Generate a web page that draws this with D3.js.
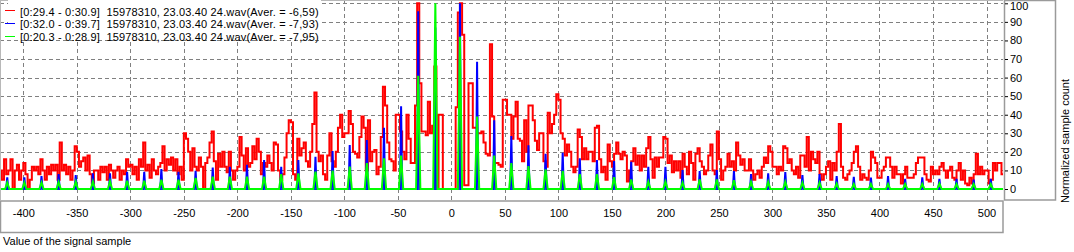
<!DOCTYPE html>
<html><head><meta charset="utf-8">
<script src="https://cdn.jsdelivr.net/npm/d3@7"></script>
<style>
html,body{margin:0;padding:0;background:#fff;}
svg{display:block;font-family:"Liberation Sans",Arial,sans-serif;font-size:11px;}
</style></head><body>
<svg id="chart" width="1074" height="252"></svg>
<script>
// ---------------- DATA ----------------
// Red histogram: bins of 2 sample units starting at -422
const redBinStart = -422;
const redBinWidth = 2;
const redCounts = [
  10, 5, 16, 8, 10, 16, 0, 10, 13, 5, 10,
  14, 8, 0, 5, 12, 10, 12, 8, 16, 10, 5, 12, 8, 13, 10, 13, 5, 25, 10, 13, 8, 12, 5, 10, 23,
  20, 12, 15, 17, 10, 18, 8, 3, 10, 10, 5, 12, 9, 12, 5, 13, 10, 6, 10, 12, 5, 10, 8, 16, 12,
  13, 8, 12, 5, 16, 12, 25, 10, 13, 6, 16, 10, 8, 12, 14, 23, 10, 16, 13, 17, 10, 16, 8, 12, 5,
  30, 27, 20, 10, 22, 12, 10, 17, 12, 0, 14, 17, 25, 31, 15, 5, 19, 12, 20, 12, 9, 20, 10, 5, 10,
  12, 28, 18, 10, 22, 12, 14, 23, 16, 27, 20, 8, 14, 12, 18, 14, 10, 25, 24, 10, 5, 8, 17, 30, 37,
  36, 8, 5, 27, 18, 22, 25, 15, 12, 20, 35, 52, 20, 15, 18, 8, 5, 18, 30, 15, 12, 20, 33, 40, 28,
  30, 30, 42, 35, 20, 19, 17, 28, 39, 33, 10, 37, 15, 20, 21, 8, 12, 28, 55, 45, 25, 16, 15, 10, 40,
  40, 31, 20, 16, 40, 27, 14, 14, 45, 100, 57, 31, 31, 29, 47, 30, 34, 66, 0, 40, 40, 0, 0, 0, 0,
  0, 0, 44, 95, 100, 83, 2, 2, 57, 57, 33, 33, 30, 30, 31, 25, 19, 18, 78, 39, 14, 14, 13, 12, 48,
  48, 40, 40, 27, 39, 47, 27, 26, 15, 37, 20, 45, 45, 37, 26, 21, 30, 30, 15, 12, 41, 30, 35, 40, 51,
  48, 30, 27, 18, 24, 20, 12, 9, 12, 32, 28, 16, 22, 16, 20, 20, 15, 33, 34, 16, 9, 12, 5, 24, 15,
  12, 19, 25, 19, 16, 20, 18, 4, 10, 15, 22, 13, 18, 10, 18, 12, 22, 28, 16, 6, 17, 12, 17, 17, 28,
  27, 14, 18, 9, 15, 10, 15, 6, 19, 12, 8, 20, 14, 5, 19, 22, 15, 12, 8, 10, 18, 24, 10, 8, 31,
  16, 5, 10, 12, 19, 12, 15, 10, 25, 18, 13, 16, 10, 10, 16, 10, 5, 8, 10, 6, 12, 17, 14, 23, 20,
  12, 12, 8, 12, 10, 23, 22, 14, 16, 10, 8, 12, 6, 18, 18, 12, 28, 10, 20, 16, 14, 20, 8, 5, 8,
  12, 15, 5, 14, 10, 20, 35, 12, 6, 5, 8, 10, 14, 20, 23, 12, 5, 8, 6, 5, 10, 20, 17, 14, 6,
  6, 10, 12, 17, 17, 12, 6, 12, 8, 8, 3, 8, 12, 6, 6, 6, 8, 14, 17, 17, 17, 8, 5, 4, 12,
  8, 10, 8, 12, 14, 10, 6, 10, 12, 6, 5, 10, 14, 5, 10, 3, 2, 6, 3, 8, 19, 8, 12, 8, 10,
  10, 3, 5, 14, 10, 14, 14, 8
];
// Blue / green histograms: non-zero only at these sample values
const peakPositions = [
  -415, -399, -383, -367, -351, -335, -319, -303, -287, -271, -255, -239, -223,
  -207, -191, -175, -159, -143, -127, -111, -95, -79, -63, -47, -31, -15,
  8, 24, 40, 56, 72, 88, 104, 120, 136, 152, 168, 184, 200, 216, 232, 248, 264,
  280, 296, 312, 328, 344, 360, 376, 392, 408, 424, 440, 456, 472, 488, 504
];
const blueHeights = [
  6.3, 6.3, 7, 8, 7.5, 8.4, 8.4, 9.3, 9.3, 10.7, 9.3, 9.8, 11.5,
  12, 13, 15.6, 12, 15.6, 17.4, 20.5, 23.7, 26.4, 33, 44.6, 95.7, 87,
  100, 68.5, 37, 28.5, 23.6, 19, 19.5, 16.5, 15.6, 15, 14.7, 12, 12, 10.2, 9.7, 10.2, 9.7,
  8.1, 8.4, 9.1, 7.5, 8.1, 7, 6.6, 6.1, 7, 5.5, 6.3, 5.5, 5.5, 5, 5.5
];
const greenHeights = [
  3.5, 3.5, 3.5, 3.8, 4, 4, 4.2, 4.5, 4.5, 5, 5, 6, 6.6,
  6.6, 6.6, 6.6, 8, 8.4, 9.3, 9.9, 12, 14, 16.5, 18, 61, 100,
  82, 39, 18, 14, 12.4, 10.6, 9.7, 8, 8, 6.3, 5.2, 4, 4, 3.4, 5.2, 5.2, 4.7,
  3.9, 3.9, 3.9, 3.4, 3.4, 3, 2.7, 2.7, 2.7, 2.7, 2.7, 3, 2.7, 2.7, 2.7
];
const xTicks = [-400, -350, -300, -250, -200, -150, -100, -50, 0, 50, 100, 150, 200, 250, 300, 350, 400, 450, 500];
const yTicks = [0, 10, 20, 30, 40, 50, 60, 70, 80, 90, 100];
const legendLabels = [
  "[0:29.4 - 0:30.9]  15978310, 23.03.40 24.wav(Aver. = -6,59)",
  "[0:32.0 - 0:39.7]  15978310, 23.03.40 24.wav(Aver. = -7,93)",
  "[0:20.3 - 0:28.9]  15978310, 23.03.40 24.wav(Aver. = -7,95)"
];
const xTitle = "Value of the signal sample";
const yTitle = "Normalized sample count";
const domainEnd = 516;

// ---------------- STYLE / LAYOUT ----------------
const colors = ["#ff0000", "#0000ff", "#00ff00"];
const plotW = 1003, plotH = 200;
const svg = d3.select("#chart");

const x = d3.scaleLinear().domain([-400, 500]).range([23.3, 986.5]);
const y = d3.scaleLinear().domain([0, 100]).range([189, 3.3]);

svg.append("defs").append("clipPath").attr("id", "plotclip")
  .append("rect").attr("x", 0).attr("y", 0).attr("width", plotW).attr("height", plotH);

// grid
const grid = svg.append("g").attr("stroke", "#808080").attr("stroke-width", 1)
  .attr("stroke-dasharray", "4,3").attr("fill", "none");
grid.selectAll("line.v").data(xTicks).join("line")
  .attr("x1", d => Math.round(x(d)) + 0.5).attr("x2", d => Math.round(x(d)) + 0.5)
  .attr("y1", 0).attr("y2", plotH);
grid.selectAll("line.h").data(yTicks).join("line")
  .attr("x1", 0).attr("x2", plotW)
  .attr("y1", d => Math.round(y(d)) + 0.5).attr("y2", d => Math.round(y(d)) + 0.5);

// series
const plot = svg.append("g").attr("clip-path", "url(#plotclip)");

const redPts = redCounts.map((c, i) => [redBinStart + i * redBinWidth, c]);
redPts.push([redBinStart + redCounts.length * redBinWidth, redCounts[redCounts.length - 1]]);
const stepLine = d3.line().x(d => x(d[0])).y(d => y(d[1])).curve(d3.curveStepAfter);
plot.append("path").attr("d", stepLine(redPts)).attr("fill", "none")
  .attr("stroke", colors[0]).attr("stroke-width", 2);

function peakPoints(heights, half) {
  const pts = [[redBinStart, 0]];
  peakPositions.forEach((p, i) => {
    pts.push([p - half, 0], [p, heights[i]], [p + half, 0]);
  });
  pts.push([domainEnd, 0]);
  return pts;
}
const lin = d3.line().x(d => x(d[0])).y(d => y(d[1]));
plot.append("path").attr("d", lin(peakPoints(blueHeights, 1))).attr("fill", "none")
  .attr("stroke", colors[1]).attr("stroke-width", 2);
plot.append("path").attr("d", lin(peakPoints(greenHeights, 2))).attr("fill", "none")
  .attr("stroke", colors[2]).attr("stroke-width", 2);

// frames
const frame = "#9a9a9a";
svg.append("line").attr("x1", 0.5).attr("x2", 0.5).attr("y1", 0).attr("y2", plotH).attr("stroke", "#b8b8b8");
svg.append("line").attr("x1", 0).attr("x2", plotW).attr("y1", 0.5).attr("y2", 0.5).attr("stroke", "#b8b8b8");
svg.append("rect").attr("x", 1004.5).attr("y", 0.5).attr("width", 51).attr("height", 199.5)
  .attr("fill", "none").attr("stroke", frame).attr("stroke-width", 1.5);
svg.append("rect").attr("x", 0.5).attr("y", 201).attr("width", 1002.5).attr("height", 31.5)
  .attr("fill", "none").attr("stroke", frame).attr("stroke-width", 1.5);

// x axis labels (plain hyphen minus, as in the reference)
const xAxis = d3.axisBottom(x).tickValues(xTicks).tickSize(0).tickPadding(8).tickFormat(d => String(d));
const gx = svg.append("g").attr("transform", "translate(0,201)").call(xAxis);
gx.select(".domain").remove();
gx.selectAll("text").attr("fill", "#000").style("font-family", '"Liberation Sans",Arial,sans-serif').style("font-size", "11px");

// y axis
const yAxis = d3.axisRight(y).tickValues(yTicks).tickSize(3).tickPadding(2).tickFormat(d => String(d));
const gy = svg.append("g").attr("transform", "translate(1005,0)").call(yAxis);
gy.select(".domain").remove();
gy.selectAll("line").attr("stroke", "#000");
gy.selectAll("text").attr("fill", "#000").style("font-family", '"Liberation Sans",Arial,sans-serif').style("font-size", "11px")
  .attr("dy", d => d === 100 ? "0.72em" : "0.32em");
gy.selectAll("text").filter(d => d === 100).attr("y", -1.5);

// titles
svg.append("text").attr("x", 3).attr("y", 245).text(xTitle);
svg.append("text").attr("transform", "translate(1069,141) rotate(-90)")
  .attr("text-anchor", "middle").text(yTitle);

// legend
const lg = svg.append("g");
lg.append("rect").attr("x", 8).attr("y", 0).attr("width", 313).attr("height", 39.5).attr("fill", "#fff");
legendLabels.forEach((t, i) => {
  const yy = 10 + i * 12.9;
  lg.append("line").attr("x1", 5).attr("x2", 15).attr("y1", Math.round(yy) + 0.5).attr("y2", Math.round(yy) + 0.5)
    .attr("stroke", colors[i]).attr("stroke-width", 1);
  lg.append("text").attr("x", 20).attr("y", 15.5 + i * 12.75)
    .style("white-space", "pre").style("letter-spacing", "0.17px").text(t);
});
</script>
</body></html>
